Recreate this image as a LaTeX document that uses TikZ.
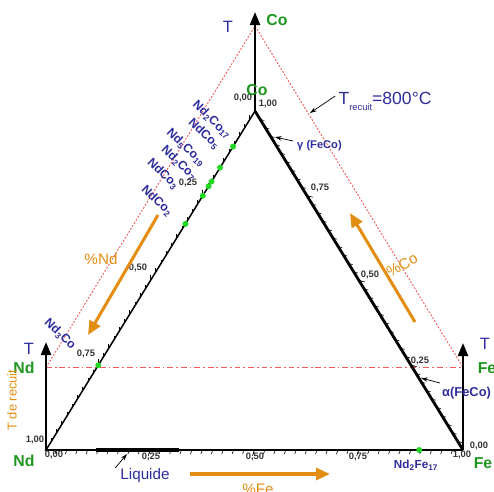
\documentclass[tikz,border=0pt]{standalone}
\usepackage{fontspec}
\setmainfont{Liberation Sans}
\usetikzlibrary{calc,arrows.meta}
\definecolor{tblue}{HTML}{2D2D9E}
\definecolor{tgreen}{HTML}{1F961F}
\definecolor{dgreen}{HTML}{22D822}
\definecolor{torange}{HTML}{E38E12}
\definecolor{tred}{HTML}{F03030}
\definecolor{tgray}{HTML}{333333}
\tikzset{
  el/.style  = {text=tgreen, font=\fontsize{13.5}{13.5}\selectfont\bfseries, inner sep=0pt},
  tt/.style  = {text=tblue, font=\fontsize{14}{14}\selectfont, inner sep=0pt},
  nb/.style  = {text=tgray, font=\fontsize{8}{8}\selectfont\bfseries, inner sep=0pt},
  cmp/.style = {text=tblue, font=\fontsize{10.5}{10.5}\selectfont\bfseries, inner sep=0pt, rotate=-44},
  ol/.style  = {text=torange, font=\fontsize{13}{13}\selectfont, inner sep=0pt},
  ax/.style  = {-{Triangle[length=3.9mm,width=3mm]}, line width=2pt},
  oa/.style  = {-{Triangle[length=4.2mm,width=3.6mm]}, line width=2.6pt, draw=torange},
  pa/.style  = {-{Stealth[length=2mm,width=1.3mm]}, line width=0.6pt},
  tk/.style  = {line width=0.5pt},
  dt/.style  = {circle, fill=dgreen, inner sep=0pt, minimum size=1.8mm},
  rl/.style  = {color=tred!80, line width=0.8pt},
}
\begin{document}
\begin{tikzpicture}[x=0.3mm, y=-0.3mm]
\useasboundingbox (0,0) rectangle (494,491);

% corners of the triangle and of the annealing level
\coordinate (Nd) at (46,450);
\coordinate (Fe) at (463,450);
\coordinate (Co) at (255,111);
\coordinate (NdT) at (46,367.5);
\coordinate (FeT) at (463,367.5);
\coordinate (CoT) at (255,26);
\coordinate (NdTop) at (46,342);
\coordinate (FeTop) at (463,343);
\coordinate (CoTop) at (255,12);

% annealing plane
\draw[rl, line width=1.1pt, dash pattern=on 5pt off 2.5pt on 1.5pt off 2.5pt] (NdT) -- (FeT);
\draw[rl, dash pattern=on 1.5pt off 1.5pt] (NdT) -- (CoT) -- (FeT);

% temperature axes
\draw[ax] (Nd) -- (NdTop);
\draw[ax] (Fe) -- (FeTop);
\draw[ax] (Co) -- (CoTop);

% ticks
\foreach \i in {1,...,39} {
  \draw[tk] ($(Nd)!\i/40!(Fe)$) -- ++(-1.5,4);
  \draw[tk] ($(Nd)!\i/40!(Co)$) -- ++(0,-4);
  \draw[tk] ($(Fe)!\i/40!(Co)$) -- ++(4,1);
}
\foreach \i in {10,20,30} {
  \draw[tk] ($(Nd)!\i/40!(Fe)$) -- ++(-2,6);
  \draw[tk] ($(Nd)!\i/40!(Co)$) -- ++(0,-6);
  \draw[tk] ($(Fe)!\i/40!(Co)$) -- ++(6,1.5);
}

% triangle
\coordinate (L1) at ($(Nd)!0.12!(Fe)$);
\coordinate (L2) at ($(Nd)!0.32!(Fe)$);
\draw[line width=1.3pt] (Co) -- (Nd) -- (Fe);
\draw[line width=2.4pt] (Co) -- (Fe);
\draw[line width=3pt] (L1) -- (L2);

% compounds
\foreach \f/\n in {0.895/a, 0.833/b, 0.792/c, 0.778/d, 0.75/e, 0.667/f, 0.25/g}
  \node[dt] (d\n) at ($(Nd)!\f!(Co)$) {};
\node[dt] (dfe) at ($(Nd)!0.895!(Fe)$) {};

\node[cmp] (nd2co17) at (212,120) {Nd\textsubscript{2}Co\textsubscript{17}};
\node[cmp] (ndco5)   at (204,134) {NdCo\textsubscript{5}};
\node[cmp] (nd5co19) at (186,148) {Nd\textsubscript{5}Co\textsubscript{19}};
\node[cmp] (nd2co7)  at (179,163) {Nd\textsubscript{2}Co\textsubscript{7}};
\node[cmp] (ndco3)   at (163,174) {NdCo\textsubscript{3}};
\node[cmp] (ndco2)   at (157,201) {NdCo\textsubscript{2}};
\node[cmp] (nd3co)   at (60,334)  {Nd\textsubscript{3}Co};
\node[text=tblue, font=\fontsize{10}{10}\selectfont\bfseries, inner sep=0pt] (nd2fe17) at (416,465) {Nd\textsubscript{2}Fe\textsubscript{17}};

% scale values
\node[nb] (c0) at (243,98)  {0,00};
\node[nb] (c1) at (268,104) {1,00};
\node[nb] (l1) at (188,183) {0,25};
\node[nb] (l2) at (138,268) {0,50};
\node[nb] (l3) at (86,354)  {0,75};
\node[nb] (l4) at (35,440)  {1,00};
\node[nb] (l0) at (54,455)  {0,00};
\node[nb] (b1) at (151,457) {0,25};
\node[nb] (b2) at (255,457) {0,50};
\node[nb] (b3) at (358,457) {0,75};
\node[nb] (b4) at (462,455) {1,00};
\node[nb] (r0) at (479,446) {0,00};
\node[nb] (r1) at (420,361) {0,25};
\node[nb] (r2) at (370,275) {0,50};
\node[nb] (r3) at (320,188) {0,75};

% elements and T axes
\node[tt] (tco) at (228,27)  {T};
\node[tt] (tnd) at (29,349)  {T};
\node[tt] (tfe) at (485,344) {T};
\node[el] (co1) at (277,20)  {Co};
\node[el] (co2) at (257,90)  {Co};
\node[el] (nd1) at (24,368)  {Nd};
\node[el] (nd2) at (24,461)  {Nd};
\node[el] (fe1) at (487,368) {Fe};
\node[el] (fe2) at (483,463) {Fe};

% phases
\node[tt, font=\fontsize{15}{15}\selectfont] (trec) at (385,101)
  {T\raisebox{-5pt}{\fontsize{8}{8}\selectfont recuit}=800°C};
\coordinate (trecA) at (310,113);
\draw[pa] ($(trec.west)+(-3,-5)$) -- (trecA);

\node[text=tblue, font=\fontsize{9.5}{9.5}\selectfont\bfseries, inner sep=0pt, anchor=west] (gam) at (297,146) {γ (FeCo)};
\coordinate (gamA) at (275,137);
\draw[pa] ($(gam.west)+(-4,-5)$) -- (gamA);

\node[text=tblue, font=\fontsize{11}{11}\selectfont\bfseries, inner sep=0pt, anchor=west] (alp) at (442,393) {α(FeCo)};
\coordinate (alpA) at (421,378);
\draw[pa] ($(alp.west)+(-2,-10)$) -- (alpA);

\node[tt, font=\fontsize{13}{13}\selectfont] (liq) at (145,476) {Liquide};
\coordinate (liqA) at (127,454);
\draw[pa] ($(liq.west)+(-5,-8)$) -- (liqA);

% composition directions
\coordinate (ndA) at (158,215);
\coordinate (ndB) at (88,335);
\draw[oa] (ndA) -- (ndB);
\node[ol] (pnd) at (101,259) {\%Nd};

\coordinate (coA) at (415,322);
\coordinate (coB) at (350,213);
\draw[oa] (coA) -- (coB);
\node[ol, rotate=30] (pco) at (402,265) {\%Co};

\coordinate (feA) at (190,474);
\coordinate (feB) at (330,474);
\draw[oa] (feA) -- (feB);
\node[ol] (pfe) at (258,489) {\%Fe};

\node[ol, font=\fontsize{11}{11}\selectfont, rotate=90] (trc) at (12,400) {T de recuit};

\end{tikzpicture}
\end{document}
